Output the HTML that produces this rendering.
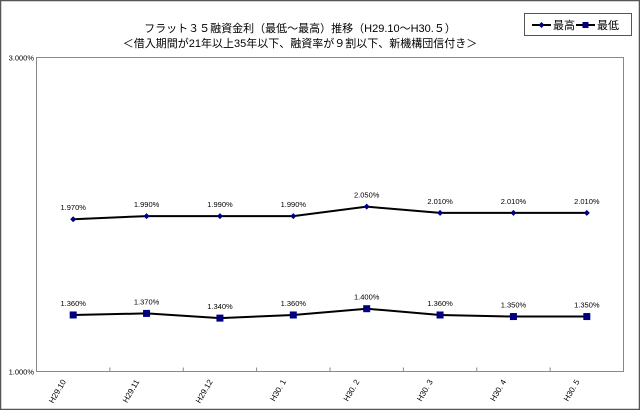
<!DOCTYPE html>
<html><head><meta charset="utf-8"><style>
body{margin:0;background:#fff;}
svg{display:block;font-family:"Liberation Sans","Noto Sans CJK JP",sans-serif;}
</style></head><body>
<svg id="chart" width="640" height="410">
<rect x="0.5" y="0.5" width="639" height="409" fill="#fff" stroke="#555" stroke-width="1.5"/>
<text x="300" y="32" font-size="11" text-anchor="middle" fill="#000">フラット３５融資金利（最低～最高）推移（H29.10～H30.５）</text>
<text x="300" y="47" font-size="11" text-anchor="middle" fill="#000">＜借入期間が21年以上35年以下、融資率が９割以下、新機構団信付き＞</text>
<g>
<rect x="524.5" y="13.5" width="107" height="22" fill="#fff" stroke="#555"/>
<g>
<line x1="532" y1="25" x2="551" y2="25" stroke="#000" stroke-width="2"/>
<polygon points="541.5,22 544.5,25 541.5,28 538.5,25" fill="#000080"/>
<text x="553" y="29" font-size="11">最高</text></g>
<g>
<line x1="576" y1="25" x2="595" y2="25" stroke="#000" stroke-width="2"/>
<rect x="582.5" y="22" width="6" height="6" fill="#000080"/>
<text x="597" y="29" font-size="11">最低</text></g>
</g>
<rect x="36.5" y="57.5" width="587" height="314" fill="#fff" stroke="#888"/>
<g id="axes"></g>
<g id="series"></g>
</svg>
<script>
const categories=["H29.10","H29.11","H29.12","H30. 1","H30. 2","H30. 3","H30. 4","H30. 5"];
const maxRates=[1.970,1.990,1.990,1.990,2.050,2.010,2.010,2.010];
const minRates=[1.360,1.370,1.340,1.360,1.400,1.360,1.350,1.350];
const yTicks=[1.0,3.0];
const NS="http://www.w3.org/2000/svg";
const L=36.5,R=623.5,T=57.5,B=371.5,yMin=1,yMax=3;
const bw=(R-L)/categories.length;
const xs=i=>L+bw*(i+0.5);
const ys=v=>B-(v-yMin)/(yMax-yMin)*(B-T);
function mk(tag,attrs,parent){const e=document.createElementNS(NS,tag);for(const k in attrs)e.setAttribute(k,attrs[k]);parent.appendChild(e);return e;}
const ax=document.getElementById('axes'),sg=document.getElementById('series');
yTicks.forEach(v=>{const t=mk('text',{x:34,y:ys(v)+3,'font-size':7.5,'text-anchor':'end'},ax);t.textContent=v.toFixed(3)+'%';

});
for(let i=1;i<categories.length;i++){const l=mk('line',{x1:L+bw*i,x2:L+bw*i,y1:B,y2:B-4,stroke:'#888'},ax);

}
categories.forEach((c,i)=>{const x=xs(i)-7,y=B+10;const t=mk('text',{x:x,y:y,'font-size':8,'text-anchor':'end',transform:`rotate(-60 ${x} ${y})`},ax);t.textContent=c;

});
function drawSeries(vals,name,square){
const g=mk('g',{},sg);


const p=mk('polyline',{points:vals.map((v,i)=>xs(i)+','+ys(v)).join(' '),fill:'none',stroke:'#000','stroke-width':2},g);


vals.forEach((v,i)=>{const x=xs(i),y=ys(v);let m;
if(square)m=mk('rect',{x:x-3.5,y:y-3.5,width:7,height:7,fill:'#000080'},g);
else m=mk('polygon',{points:`${x},${y-3} ${x+3},${y} ${x},${y+3} ${x-3},${y}`,fill:'#000080'},g);


const t=mk('text',{x:x,y:y-9,'font-size':7.5,'text-anchor':'middle'},g);t.textContent=v.toFixed(3)+'%';

});
}
drawSeries(maxRates,'series-max',false);
drawSeries(minRates,'series-min',true);
</script>
</body></html>
